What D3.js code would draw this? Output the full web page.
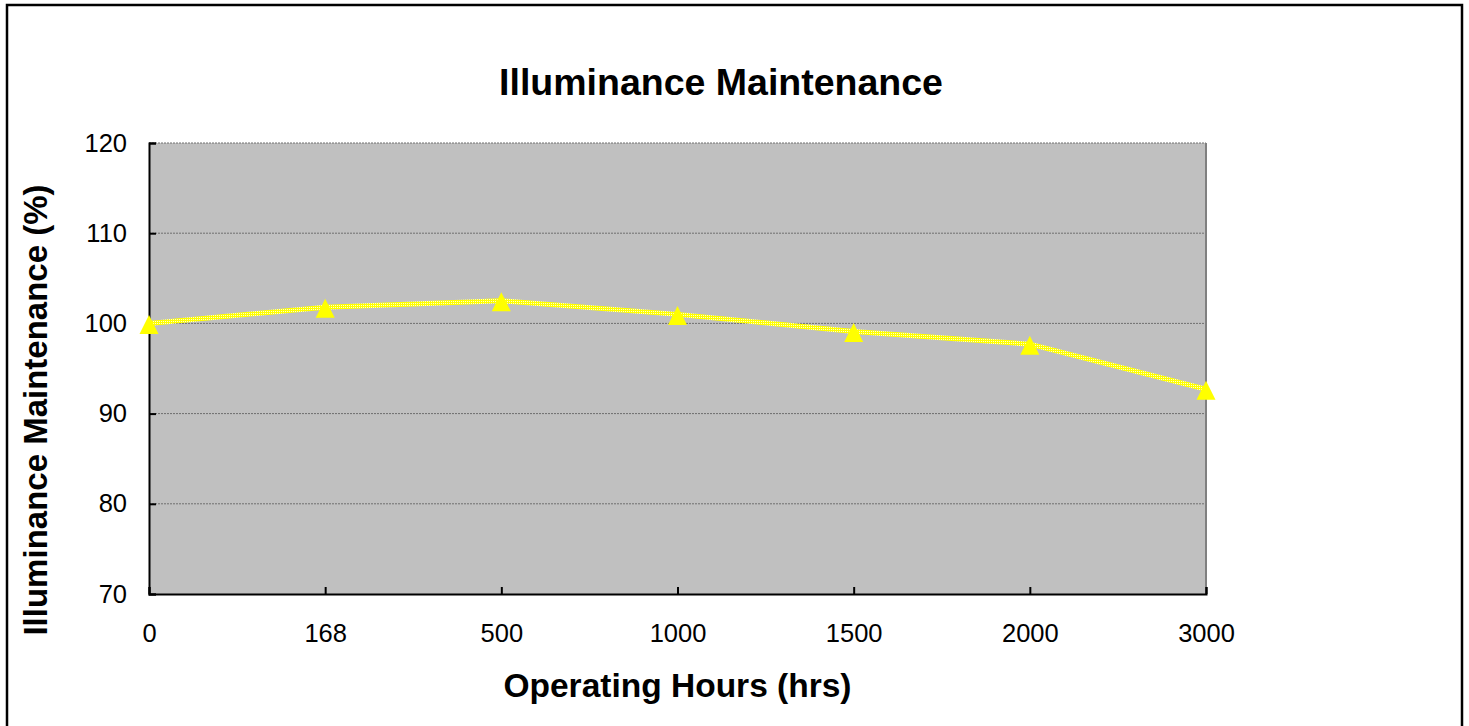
<!DOCTYPE html>
<html>
<head>
<meta charset="utf-8">
<script src="https://cdn.jsdelivr.net/npm/d3@7"></script>
<style>
  body { margin: 0; background: #fff; }
  text { font-family: "Liberation Sans", Arial, sans-serif; fill: #000; }
</style>
</head>
<body>
<div id="grafico"></div>
<script>
// dados
var horas = ['0', '168', '500', '1000', '1500', '2000', '3000'];
var manutencao = [100.0, 101.8, 102.5, 101.0, 99.1, 97.7, 92.7];
var ticksY = [70, 80, 90, 100, 110, 120];

var width = 1469,
    height = 726,
    margem = {top: 143, right: 263, bottom: 132, left: 149},
    w = width - margem.left - margem.right,
    h = height - margem.top - margem.bottom;

var svg = d3.select("#grafico").append("svg")
    .attr("width", width)
    .attr("height", height);

// padrao do traco (amarelo com pontos claros)
var pat = svg.append("defs").append("pattern")
    .attr("id", "xadrez")
    .attr("patternUnits", "userSpaceOnUse")
    .attr("width", 2)
    .attr("height", 2);
pat.append("rect").attr("width", 2).attr("height", 2).attr("fill", "#ffff00");
pat.append("rect").attr("width", 1).attr("height", 1).attr("fill", "#ffffd0");

// moldura externa
svg.append("rect")
    .attr("x", 7).attr("y", 5)
    .attr("width", 1455).attr("height", 730)
    .attr("fill", "none")
    .attr("stroke", "#000")
    .attr("stroke-width", 2.5);

var x = d3.scalePoint().domain(horas).range([0, w]).padding(0);
var y = d3.scaleLinear().domain([70, 120]).range([h, 0]);

var g = svg.append("g")
    .attr("transform", "translate(" + margem.left + "," + margem.top + ")");

g.append("rect")
    .attr("width", w).attr("height", h)
    .attr("fill", "#c0c0c0");

// linhas de grade
g.selectAll(".grade")
    .data(ticksY.slice(1))
    .enter().append("line")
    .attr("class", "grade")
    .attr("x1", 0).attr("x2", w)
    .attr("y1", function(d) { return y(d); })
    .attr("y2", function(d) { return y(d); })
    .attr("stroke", "#6e6e6e")
    .attr("stroke-width", 1)
    .attr("stroke-dasharray", "2,1");

// borda direita cinza
g.append("line")
    .attr("x1", w).attr("x2", w)
    .attr("y1", 0).attr("y2", h)
    .attr("stroke", "#808080")
    .attr("stroke-width", 2);

// eixo y
var eixoY = g.append("g")
    .call(d3.axisLeft(y).tickValues(ticksY).tickSize(-7).tickPadding(22).tickFormat(d3.format("d")));
eixoY.select(".domain").attr("stroke", "#000").attr("stroke-width", 2);
eixoY.selectAll(".tick line").attr("stroke", "#000").attr("stroke-width", 2);
eixoY.selectAll("text").attr("font-size", 25.5).attr("font-family", "Liberation Sans, Arial, sans-serif").attr("fill", "#000");

// eixo x
var eixoX = g.append("g")
    .attr("transform", "translate(0," + h + ")")
    .call(d3.axisBottom(x).tickSize(-7).tickPadding(30));
eixoX.select(".domain").attr("stroke", "#000").attr("stroke-width", 2);
eixoX.selectAll(".tick line").attr("stroke", "#000").attr("stroke-width", 2);
eixoX.selectAll("text").attr("font-size", 25.5).attr("font-family", "Liberation Sans, Arial, sans-serif").attr("fill", "#000");

// serie
var linha = d3.line()
    .x(function(d, i) { return x(horas[i]); })
    .y(function(d) { return y(d); });

g.append("path")
    .attr("d", linha(manutencao))
    .attr("fill", "none")
    .attr("stroke", "url(#xadrez)")
    .attr("stroke-width", 5)
    .attr("stroke-linejoin", "round");

g.selectAll(".marcador")
    .data(manutencao)
    .enter().append("path")
    .attr("class", "marcador")
    .attr("d", "M0,-8.5L9.5,10.5L-9.5,10.5Z")
    .attr("transform", function(d, i) { return "translate(" + x(horas[i]) + "," + y(d) + ")"; })
    .attr("fill", "#ffff00");

// titulos
svg.append("text")
    .attr("x", 721).attr("y", 95)
    .attr("text-anchor", "middle")
    .attr("font-size", 37.5)
    .attr("font-weight", "bold")
    .text("Illuminance Maintenance");

svg.append("text")
    .attr("x", margem.left + w / 2).attr("y", 697)
    .attr("text-anchor", "middle")
    .attr("font-size", 33.5)
    .attr("font-weight", "bold")
    .text("Operating Hours (hrs)");

svg.append("text")
    .attr("transform", "translate(47,410) rotate(-90)")
    .attr("text-anchor", "middle")
    .attr("font-size", 33)
    .attr("font-weight", "bold")
    .text("Illuminance Maintenance (%)");
</script>
</body>
</html>
